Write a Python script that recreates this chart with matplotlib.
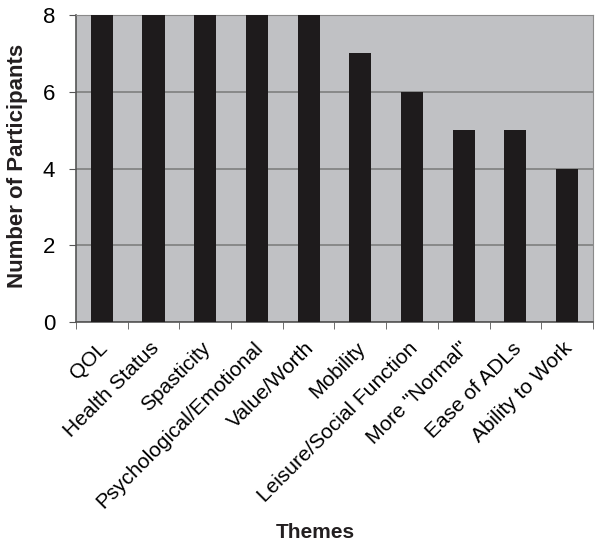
import numpy as np
import matplotlib.pyplot as plt
from matplotlib.transforms import ScaledTranslation

# Chart data
themes = ['QOL', 'Health Status', 'Spasticity', 'Psychological/Emotional',
          'Value/Worth', 'Mobility', 'Leisure/Social Function',
          'More "Normal"', 'Ease of ADLs', 'Ability to Work']
participants = [8, 8, 8, 8, 8, 7, 6, 5, 5, 4]

plt.rcParams['font.family'] = ['Liberation Sans', 'DejaVu Sans']

fig = plt.figure(figsize=(6.01, 5.47), dpi=100)
ax = fig.add_axes([0.1265, 0.4113, 0.86, 0.5613])

x = np.arange(len(themes))
ax.bar(x, participants, width=0.43, color='#1e1b1c', zorder=3)

ax.set_facecolor('#c0c1c4')
ax.set_xlim(-0.5, len(themes) - 0.5)
ax.set_ylim(0, 8)
ax.set_yticks([0, 2, 4, 6, 8])
ax.yaxis.grid(True, color='#7f7f7f', linewidth=1.2, zorder=1)

# category ticks at the boundaries, labels at the centres
ax.set_xticks(x)
ax.set_xticklabels(themes, rotation=45, ha='right', rotation_mode='anchor', fontsize=15)
ax.set_xticks(np.arange(-0.5, len(themes)), minor=True)
ax.tick_params(axis='x', which='major', length=0, pad=12)
ax.tick_params(axis='x', which='minor', length=5, color='#555555', direction='out')
ax.tick_params(axis='y', length=5, color='#555555', labelsize=16, pad=10)

# nudge the rotated labels a little to the left
shift = ScaledTranslation(-4 / 100, 0, fig.dpi_scale_trans)
for lbl in ax.get_xticklabels():
    lbl.set_transform(lbl.get_transform() + shift)

for side in ['top', 'right']:
    ax.spines[side].set_color('#8a8a8a')
for side in ['left', 'bottom']:
    ax.spines[side].set_color('#555555')
    ax.spines[side].set_linewidth(1.2)

fig.text(18 / 601, 1 - 166 / 547, 'Number of Participants', rotation=90,
         ha='center', va='center', fontsize=16, fontweight='bold', color='#231f20')
fig.text(315 / 601, 1 - 532 / 547, 'Themes', ha='center', va='center',
         fontsize=15, fontweight='bold', color='#231f20')

plt.savefig('out.png', dpi=100)
